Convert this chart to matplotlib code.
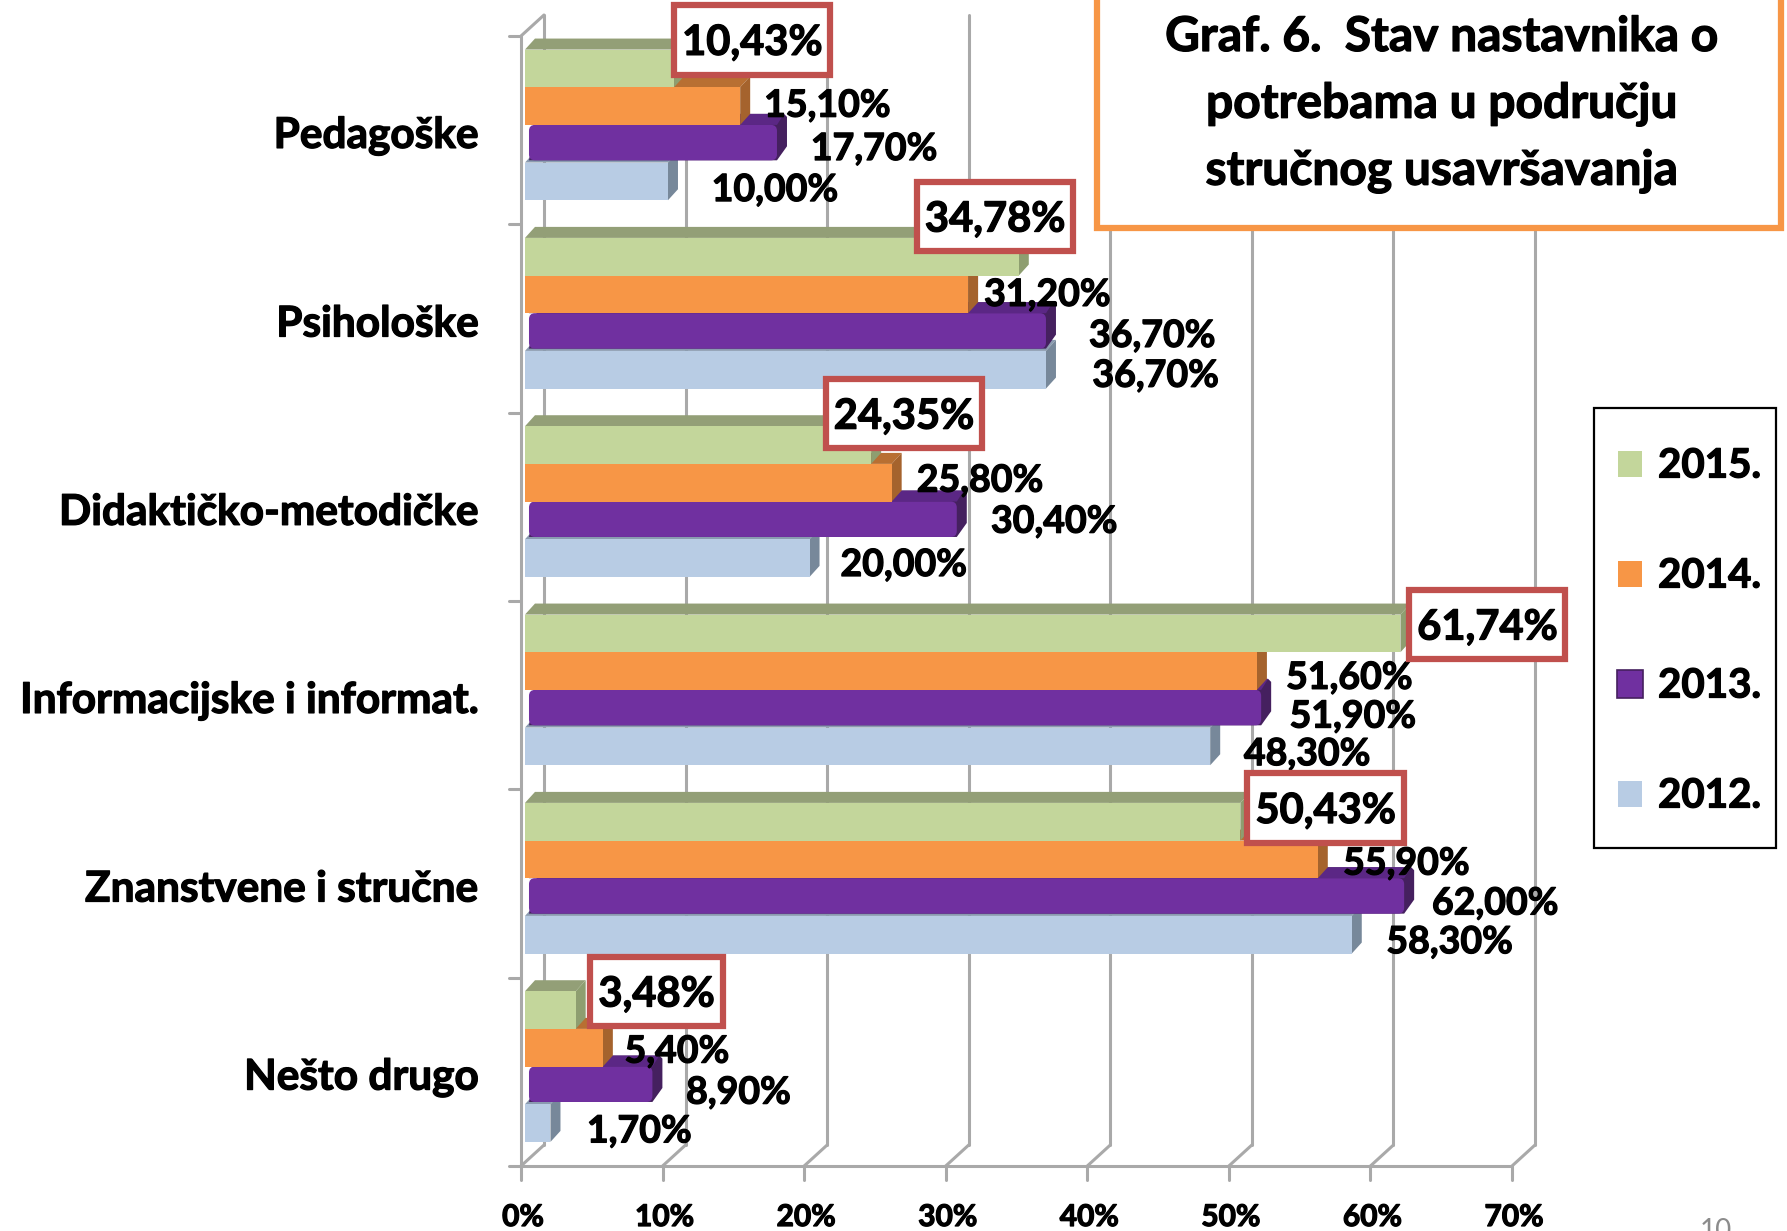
import matplotlib
matplotlib.use("Agg")
import matplotlib.pyplot as plt
import matplotlib.patheffects as pe
from matplotlib.patches import Polygon, Rectangle, FancyBboxPatch
from matplotlib.lines import Line2D

W, H = 1787, 1231
plt.rcParams['font.family'] = ['Lato', 'DejaVu Sans']
plt.rcParams['font.weight'] = 'bold'

categories = ["Pedagoške", "Psihološke", "Didaktičko-metodičke",
              "Informacijske i informat.", "Znanstvene i stručne", "Nešto drugo"]
series_names = ["2015.", "2014.", "2013.", "2012."]
v2015 = [10.43, 34.78, 24.35, 61.74, 50.43, 3.48]
v2014 = [15.10, 31.20, 25.80, 51.60, 55.90, 5.40]
v2013 = [17.70, 36.70, 30.40, 51.90, 62.00, 8.90]
v2012 = [10.00, 36.70, 20.00, 48.30, 58.30, 1.70]
x_ticks = [0, 10, 20, 30, 40, 50, 60, 70]
title_lines = ["Graf. 6.  Stav nastavnika o", "potrebama u području", "stručnog usavršavanja"]

S = 1787 / 1568  # layout coordinates below were measured on the shrunk view
label_xy = [
    [(660, 35), (726, 91), (767, 129), (680, 165)],
    [(873, 190), (919, 257), (1011, 293), (1014, 328)],
    [(793, 363), (860, 420), (925, 456), (793, 494)],
    [(1305, 548), (1184, 593), (1187, 627), (1147, 660)],
    [(1163, 709), (1234, 756), (1312, 791), (1272, 825)],
    [(576, 870), (594, 921), (648, 957), (561, 991)],
]
box_w = [137, 137, 137, 137, 137, 117]

# colours: front, side, top
C = [("#c3d69b", "#8e9e70", "#939f77"),
     ("#f79646", "#a5632d", "#b86f32"),
     ("#7030a0", "#45205f", "#5b2785"),
     ("#b8cce4", "#77889a", "#8a9bb0")]
GRID = "#a9a9a9"
BOLD = [pe.withStroke(linewidth=0.9, foreground="black")]

fig = plt.figure(figsize=(W / 100, H / 100), dpi=100, facecolor="white")
X0, X1, Y0, Y1 = 521, 1512, 36, 1166
ax = fig.add_axes([X0 / W, 1 - Y1 / H, (X1 - X0) / W, (Y1 - Y0) / H])
ax.set_xlim(0, 70)
ax.set_ylim(6, 0)
ax.axis("off")
ux = 70 / (X1 - X0)   # data per pixel
uy = 6 / (Y1 - Y0)

def px(x, y):
    return x / W, 1 - y / H

# walls
wx, wy = 23 * ux, 21 * uy
def ln(xs, ys, **k):
    ax.add_line(Line2D(xs, ys, color=GRID, lw=2.2, clip_on=False, solid_capstyle="round", **k))

for t in x_ticks:
    ln([t + wx, t + wx], [6 - wy, 0 - wy], zorder=1)
    ln([t, t + wx], [6, 6 - wy], zorder=1)
    ln([t, t], [6, 6 + 14 * uy], zorder=1)
ln([0, 70], [6, 6], zorder=1)
ln([0, 0], [0, 6], zorder=1)
ln([0, wx], [0, -wy], zorder=1)
for i in range(7):
    ln([-12 * ux, 0], [i, i], zorder=1)

# bars
dx, dy = 10 * ux, 11 * uy
start = 3.5 * S * ux
bar_h = 0.2
offs = [0.072, 0.272, 0.472, 0.672]
series = [v2015, v2014, v2013, v2012]

for s in (3, 2, 1, 0):
    front, side, top = C[s]
    z = 5 + (3 - s)
    for c, v in enumerate(series[s]):
        y0 = c + offs[s]
        y1 = y0 + bar_h
        x0 = start
        x1 = v + start + 0.1
        if s == 2:
            r = 6 * ux
            xi = x0 + 4 * ux
            h = bar_h - 0.012
            ax.add_patch(Polygon([(xi + dx, y0 - dy), (x1 + dx - 3 * ux, y0 - dy), (x1 + dx, y0 - dy + 0.016),
                                  (x1 + dx, y0 + h - dy - 0.016), (x1, y0 + h), (xi, y0 + h)],
                                 fc=side, ec="none", zorder=z))
            ax.add_patch(Polygon([(xi + dx, y0 - dy), (x1 + dx - 3 * ux, y0 - dy), (x1, y0), (xi, y0)],
                                 fc=top, ec="none", zorder=z))
            ax.add_patch(FancyBboxPatch((xi, y0), x1 - xi, h,
                                        boxstyle=f"round,pad=0,rounding_size={r}",
                                        mutation_aspect=uy / ux, fc=front, ec="none", zorder=z))
        else:
            ax.add_patch(Polygon([(x0 + dx, y0 - dy), (x1 + dx, y0 - dy), (x1, y0), (x0, y0)],
                                 fc=top, ec="none", zorder=z))
            ax.add_patch(Polygon([(x1, y0), (x1 + dx, y0 - dy), (x1 + dx, y1 - dy), (x1, y1)],
                                 fc=side, ec="none", zorder=z))
            ax.barh(y0 + bar_h / 2, x1 - x0, height=bar_h, left=x0, color=front, zorder=z)

# x tick labels
for t in x_ticks:
    ax.annotate(f"{t}%", xy=(t, 6), xytext=(2, -51), textcoords="offset pixels",
                ha="center", va="center", fontsize=21.5, color="black", annotation_clip=False,
                path_effects=BOLD)

# category labels
for c, name in enumerate(categories):
    ax.annotate(name, xy=(0, c + 0.5), xytext=(-42, -6), textcoords="offset pixels",
                ha="right", va="center", fontsize=30.5, color="black", annotation_clip=False,
                zorder=20, path_effects=BOLD)

# value labels
for c in range(6):
    for s in range(4):
        txt = f"{series[s][c]:.2f}".replace(".", ",") + "%"
        lx, ly = label_xy[c][s]
        if s == 0:
            bw, bh = box_w[c] * S, 61 * S
            by = ly * S
            if c >= 2:
                by = ly * S  # box centre
            fig.add_artist(Rectangle((px(lx * S - bw / 2, by + bh / 2)), bw / W, bh / H,
                                     transform=fig.transFigure, fc="white", ec="#c0504d", lw=4.5, zorder=30))
            fig.text(*px(lx * S, by + 3), txt, ha="center", va="center", fontsize=30, color="black",
                     zorder=31, path_effects=BOLD)
        else:
            fig.text(*px(lx * S, ly * S + 2), txt, ha="center", va="center", fontsize=27, color="black",
                     zorder=29, path_effects=BOLD)

# title box
fig.add_artist(Rectangle(px(1097, 228), (1781 - 1097) / W, 240 / H, transform=fig.transFigure,
                         fc="white", ec="#f79646", lw=4.5, zorder=25))
for y, line in zip((37, 104, 171), title_lines):
    fig.text(*px(1441, y), line, ha="center", va="center", fontsize=34.5, color="black", zorder=26,
             path_effects=BOLD)

# legend
fig.add_artist(Rectangle(px(1594, 848), (1776 - 1594) / W, (848 - 408) / H, transform=fig.transFigure,
                         fc="white", ec="black", lw=1.6, zorder=25))
for y, name, (front, side, _) in zip((464, 574, 684, 794), series_names, C):
    if front == "#7030a0":
        fig.add_artist(Rectangle(px(1617, y + 14), 26 / W, 28 / H, transform=fig.transFigure,
                                 fc=front, ec=side, lw=1.2, zorder=26))
    else:
        fig.add_artist(Rectangle(px(1618, y + 13), 24 / W, 26 / H, transform=fig.transFigure,
                                 fc=front, ec="none", zorder=26))
    fig.text(*px(1658, y + 2), name, ha="left", va="center", fontsize=29, color="black", zorder=26,
             path_effects=BOLD)

fig.text(*px(1716, 1231), "10", ha="center", va="center", fontsize=20, color="#8c8c8c",
         fontweight="normal")

fig.savefig("out.png", dpi=100)
